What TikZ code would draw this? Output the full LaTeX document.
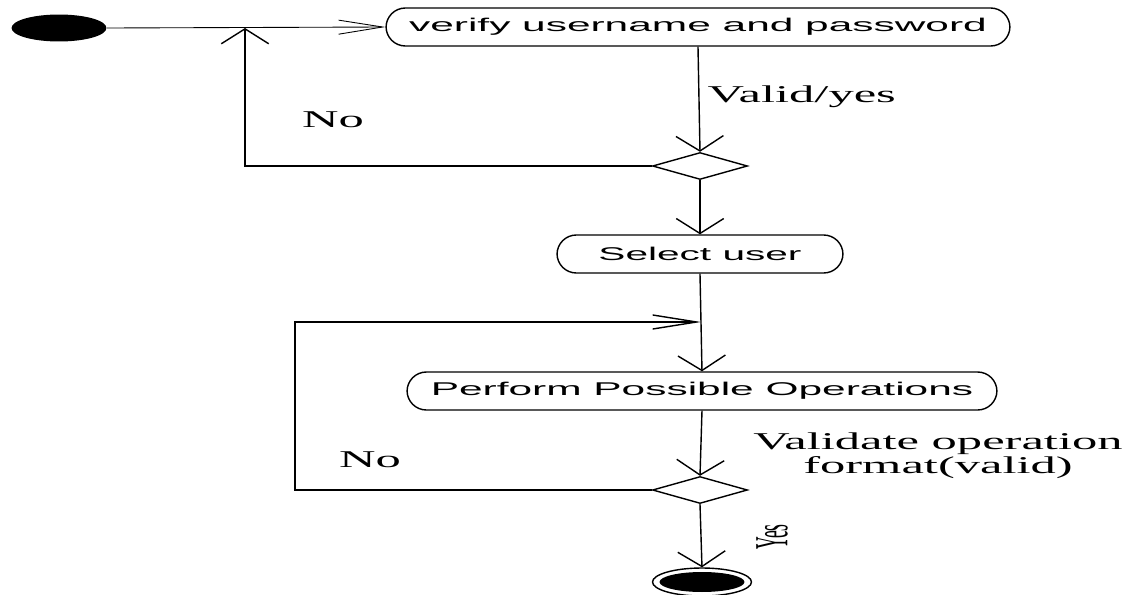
\documentclass[tikz,border=0pt]{standalone}
\usepackage{fontspec}
\setmainfont{Liberation Serif}
\setsansfont{Liberation Sans}
\usepackage{tikz}
\usetikzlibrary{shapes.geometric,arrows.meta}

\newcommand{\wide}[2][2.1]{\scalebox{#1}[1]{#2}}

\begin{document}
\begin{tikzpicture}[
    x=0.02cm, y=-0.02cm,
    line width=0.8pt,
    activity/.style={draw, rounded corners=11pt, minimum height=0.76cm, inner sep=0pt,
        font=\sffamily\fontsize{10.5}{12}\selectfont},
    decision/.style={draw, diamond, minimum width=1.9cm, minimum height=0.54cm, inner sep=0pt},
    guard/.style={font=\fontsize{13.7}{11.5}\selectfont, inner sep=0pt},
    vflow/.style={-{Straight Barb[length=8.5pt,width=27pt]}},
    hflow/.style={-{Straight Barb[length=25pt,width=8pt]}}
]
\useasboundingbox (0,0) rectangle (1134,595);

\node[ellipse, fill=black, minimum width=1.9cm, minimum height=0.54cm, inner sep=0pt] (start) at (59,28) {};
\node[activity, minimum width=12.48cm] (verify) at (698,27) {\wide[2.3]{verify username and password}};
\node[decision] (d1) at (700,166) {};
\node[activity, minimum width=5.72cm] (select) at (700,254) {\wide[2.2]{Select user}};
\node[activity, minimum width=11.8cm] (perform) at (702,391) {\wide[2.3]{Perform Possible Operations}};
\node[decision] (d2) at (700,490) {};
\node[draw, ellipse, minimum width=1.98cm, minimum height=0.56cm, inner sep=0pt,
    path picture={\fill (path picture bounding box.center) ellipse (0.85cm and 0.2cm);}] (final) at (702,582) {};

\coordinate (j1) at (245,28);
\coordinate (k2) at (295,322);
\coordinate (j2) at (701,322);

\draw[hflow, line width=0.5pt] (start.east) -- (verify.west);
\draw[vflow] (verify.south) -- (d1.north);
\draw[vflow] (d1.west) -| (j1);
\draw[vflow] (d1.south) -- (select.north);
\draw[vflow] (select.south) -- (perform.north);
\draw[hflow] (d2.west) -| (k2) -- (j2);
\draw[vflow] (perform.south) -- (d2.north);
\draw[vflow] (d2.south) -- (final.north);

\node[guard, anchor=west] (lvalid) at (707,97) {\wide{Valid/yes}};
\node[guard] (lno1) at (333,120) {\wide{No}};
\node[guard] (lno2) at (370,460) {\wide{No}};
\node[guard, align=center] (lformat) at (938,456) {\wide{Validate operation}\\\wide{format(valid)}};
\node[guard] (lyes) at (772,537) {\wide[2.7]{\rotatebox{90}{\fontsize{10}{10}\selectfont Yes}}};
\end{tikzpicture}
\end{document}
